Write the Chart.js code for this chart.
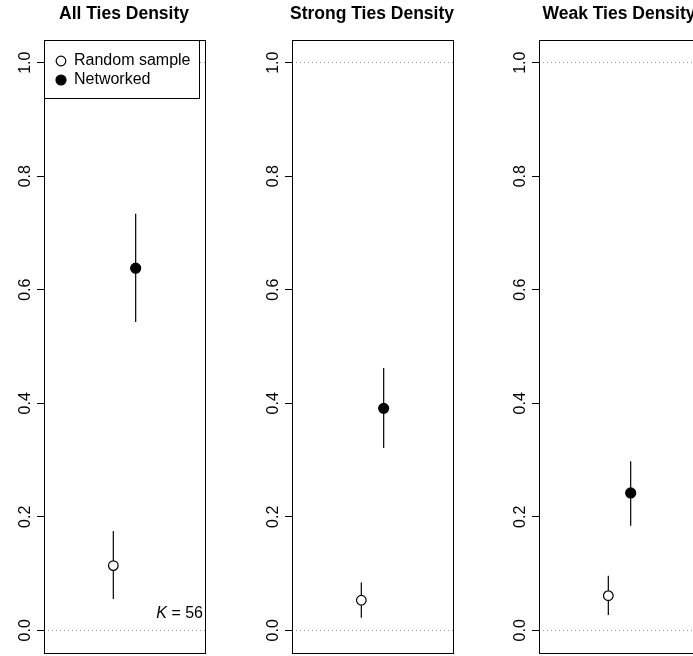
<!DOCTYPE html>
<html>
<head>
<meta charset="utf-8">
<script src="https://cdn.jsdelivr.net/npm/chart.js@4/dist/chart.umd.min.js"></script>
<style>
  html, body { margin: 0; padding: 0; background: #fff; }
  #wrap { position: relative; width: 693px; height: 656px; overflow: hidden; }
  .panel { position: absolute; top: 0; width: 248px; height: 656px; }
</style>
</head>
<body>
<div id="wrap">
  <div class="panel" style="left:0px"><canvas id="c0"></canvas></div>
  <div class="panel" style="left:248px"><canvas id="c1"></canvas></div>
  <div class="panel" style="left:495px"><canvas id="c2"></canvas></div>
</div>
<script>
'use strict';

// ─── Data ─────────────────────────────────────────────────────
const panelTitles = ['All Ties Density', 'Strong Ties Density', 'Weak Ties Density'];
const groupLabels = ['Random sample', 'Networked'];
const groupX = [0.925, 1.075];

const randomMean = [0.114, 0.053, 0.061];
const randomLow = [0.055, 0.022, 0.027];
const randomHigh = [0.175, 0.084, 0.096];

const networkedMean = [0.638, 0.391, 0.242];
const networkedLow = [0.543, 0.321, 0.184];
const networkedHigh = [0.734, 0.462, 0.298];

const yTicks = [0, 0.2, 0.4, 0.6, 0.8, 1.0];
const refLines = [0, 1];
const kSymbol = 'K';
const kValue = ' = 56';

const FONT = "'Liberation Sans', Arial, Helvetica, sans-serif";
Chart.defaults.color = '#000';
Chart.defaults.font.family = FONT;

// box round the plot region
const frame = {
    id: 'frame',
    afterDraw(chart) {
        const { ctx, chartArea: a } = chart;
        ctx.save();
        ctx.strokeStyle = '#000';
        ctx.lineWidth = 1;
        ctx.strokeRect(Math.round(a.left) + 0.5, Math.round(a.top) + 0.5,
            Math.round(a.right - a.left), Math.round(a.bottom - a.top));
        ctx.restore();
    }
};

// legend box + K label, first panel only
const notes = {
    id: 'notes',
    afterDraw(chart, args, opts) {
        if (!opts.show) return;
        const { ctx, chartArea: a } = chart;
        ctx.save();
        const bx = Math.round(a.left) + 0.5, by = Math.round(a.top) + 0.5;
        ctx.fillStyle = '#fff';
        ctx.fillRect(bx, by, 155, 58);
        ctx.strokeStyle = '#000';
        ctx.lineWidth = 1;
        ctx.strokeRect(bx, by, 155, 58);

        const items = chart.data.datasets.filter(d => d.inLegend);
        ctx.font = `16px ${FONT}`;
        ctx.textBaseline = 'middle';
        ctx.textAlign = 'left';
        items.forEach((d, i) => {
            const cy = a.top + 21 + i * 19;
            ctx.beginPath();
            ctx.arc(a.left + 17, cy, d.pointRadius, 0, Math.PI * 2);
            ctx.fillStyle = d.backgroundColor;
            ctx.fill();
            ctx.lineWidth = d.borderWidth;
            ctx.strokeStyle = d.borderColor;
            ctx.stroke();
            ctx.fillStyle = '#000';
            ctx.fillText(d.label, a.left + 30, cy);
        });

        // K = 56
        const ky = a.bottom - 39;
        ctx.textAlign = 'right';
        ctx.fillText(kValue, a.right - 2, ky);
        const w = ctx.measureText(kValue).width;
        ctx.font = `italic 16px ${FONT}`;
        ctx.fillText(kSymbol, a.right - 2 - w, ky);
        ctx.restore();
    }
};

function makePanel(i) {
    const ctx = document.getElementById('c' + i);
    const means = [randomMean[i], networkedMean[i]];
    const lows = [randomLow[i], networkedLow[i]];
    const highs = [randomHigh[i], networkedHigh[i]];

    const pointSets = groupLabels.map((label, g) => ({
        type: 'scatter',
        label,
        inLegend: true,
        data: [{ x: groupX[g], y: means[g] }],
        pointRadius: g === 0 ? 4.8 : 5,
        backgroundColor: g === 0 ? '#fff' : '#000',
        borderColor: '#000',
        borderWidth: 1.2,
        order: 0
    }));

    const barSets = groupLabels.map((label, g) => ({
        type: 'line',
        label: label + ' CI',
        data: [{ x: groupX[g], y: lows[g] }, { x: groupX[g], y: highs[g] }],
        borderColor: '#000',
        borderWidth: 1.2,
        pointRadius: 0,
        order: 1
    }));

    new Chart(ctx, {
        type: 'scatter',
        data: { datasets: [...pointSets, ...barSets] },
        options: {
            responsive: true,
            maintainAspectRatio: false,
            animation: false,
            layout: { autoPadding: false, padding: { left: 0, right: 0, top: 0, bottom: 3 } },
            plugins: {
                legend: { display: false },
                tooltip: { enabled: false },
                title: {
                    display: true,
                    text: panelTitles[i],
                    color: '#000',
                    font: { family: FONT, size: 17.5, weight: 'bold', lineHeight: 1.2 },
                    padding: { top: 4, bottom: 15 }
                },
                notes: { show: i === 0 }
            },
            scales: {
                x: { type: 'linear', display: false, min: 0.46, max: 1.54 },
                y: {
                    type: 'linear',
                    position: 'left',
                    min: -0.04,
                    max: 1.04,
                    afterBuildTicks: s => { s.ticks = yTicks.map(v => ({ value: v })); },
                    afterFit: s => { s.width = 44; s.paddingTop = 0; s.paddingBottom = 0; },
                    ticks: {
                        minRotation: 90,
                        maxRotation: 90,
                        crossAlign: 'center',
                        padding: 0,
                        color: '#000',
                        font: { family: FONT, size: 16 },
                        callback: v => v.toFixed(1)
                    },
                    grid: {
                        drawOnChartArea: true,
                        color: c => (c.tick && refLines.includes(c.tick.value)) ? '#999' : 'rgba(0,0,0,0)',
                        lineWidth: 1,
                        tickLength: 7,
                        tickColor: '#000',
                        tickWidth: 1
                    },
                    border: { display: false, dash: [1, 3] }
                },
                // empty right margin so the title centres over the plot box
                yRight: {
                    type: 'linear',
                    position: 'right',
                    display: true,
                    ticks: { display: false },
                    grid: { display: false },
                    border: { display: false },
                    afterFit: s => { s.width = 43; s.paddingTop = 0; s.paddingBottom = 0; }
                }
            }
        },
        plugins: [frame, notes]
    });
}

[0, 1, 2].forEach(makePanel);
</script>
</body>
</html>
